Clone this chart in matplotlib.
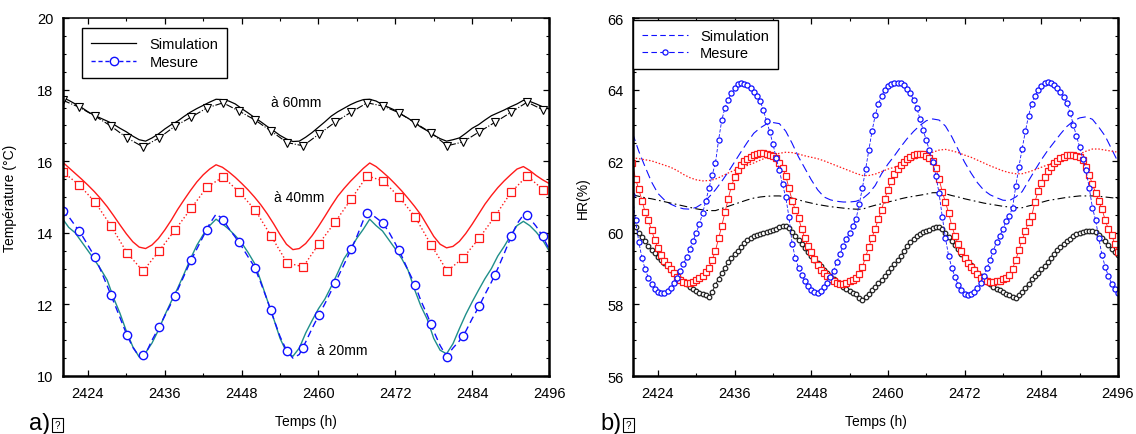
import numpy as np
import matplotlib
matplotlib.use("Agg")
import matplotlib.pyplot as plt
from matplotlib.lines import Line2D
from matplotlib.patches import Rectangle
from matplotlib.ticker import MultipleLocator

plt.rcParams['font.family'] = ['Liberation Sans', 'DejaVu Sans']

# ---------------- a) Temperature, hourly simulation (t = 2420 .. 2496) ----------------
T60_sim = [17.78, 17.7, 17.6, 17.5, 17.38, 17.28, 17.2, 17.12, 17.03, 16.92, 16.82, 16.7,
           16.6, 16.56, 16.65, 16.76, 16.9, 17.02, 17.12, 17.25, 17.37, 17.47, 17.56, 17.65,
           17.73, 17.72, 17.68, 17.6, 17.47, 17.35, 17.22, 17.1, 16.97, 16.85, 16.72, 16.62,
           16.55, 16.56, 16.67, 16.8, 16.95, 17.1, 17.26, 17.38, 17.48, 17.58, 17.66, 17.72,
           17.73, 17.68, 17.58, 17.5, 17.42, 17.3, 17.2, 17.08, 16.95, 16.85, 16.73, 16.63,
           16.56, 16.6, 16.65, 16.78, 16.92, 17.02, 17.15, 17.27, 17.35, 17.43, 17.52, 17.6,
           17.7, 17.67, 17.6, 17.52, 17.46]
T40_sim = [15.98, 15.82, 15.66, 15.5, 15.33, 15.15, 14.95, 14.73, 14.48, 14.22, 13.97, 13.75,
           13.6, 13.56, 13.66, 13.84, 14.08, 14.35, 14.65, 14.92, 15.18, 15.42, 15.62, 15.78,
           15.9, 15.83, 15.7, 15.55, 15.38, 15.2, 15.0, 14.78, 14.53, 14.25, 13.95, 13.68,
           13.53, 13.56, 13.7, 13.92, 14.18, 14.46, 14.75, 15.02, 15.24, 15.44, 15.62, 15.8,
           15.95, 15.85, 15.7, 15.54, 15.36, 15.17, 14.96, 14.74, 14.5, 14.2, 13.9, 13.68,
           13.58, 13.62, 13.76, 13.98, 14.24, 14.52, 14.8, 15.04, 15.26, 15.45, 15.62, 15.78,
           15.85, 15.74, 15.6, 15.48, 15.38]
T20_sim = [14.4, 14.15, 14.0, 13.75, 13.5, 13.25, 12.98, 12.68, 12.18, 11.75, 11.25, 10.82,
           10.53, 10.65, 10.92, 11.28, 11.7, 12.08, 12.45, 12.85, 13.27, 13.65, 13.95, 14.2,
           14.38, 14.25, 14.1, 13.92, 13.72, 13.45, 13.15, 12.65, 12.12, 11.6, 11.05, 10.67,
           10.55, 10.78, 11.2, 11.55, 11.88, 12.15, 12.5, 12.88, 13.28, 13.55, 13.85, 14.1,
           14.38, 14.2, 14.05, 13.8, 13.55, 13.28, 12.95, 12.42, 11.95, 11.58, 11.05, 10.72,
           10.62, 10.9, 11.32, 11.72, 12.07, 12.4, 12.72, 13.0, 13.35, 13.62, 13.92, 14.2,
           14.32, 14.2, 14.02, 13.8, 13.5]
T20_mes_line = [14.65, 14.45, 14.2, 13.95, 13.65, 13.35, 12.95, 12.52, 12.08, 11.63, 11.18, 10.8,
                10.55, 10.62, 11.0, 11.33, 11.68, 12.03, 12.4, 12.8, 13.2, 13.55, 13.9, 14.25,
                14.52, 14.4, 14.12, 13.88, 13.62, 13.33, 13.05, 12.6, 12.12, 11.6, 11.1, 10.72,
                10.5, 10.6, 10.95, 11.33, 11.68, 12.02, 12.38, 12.75, 13.12, 13.5, 13.9, 14.35,
                14.55, 14.42, 14.28, 14.02, 13.7, 13.35, 12.95, 12.58, 12.1, 11.7, 11.25, 10.85,
                10.55, 10.78, 10.98, 11.25, 11.6, 11.92, 12.28, 12.62, 13.0, 13.42, 13.86, 14.25,
                14.5, 14.4, 14.18, 13.9, 13.55]

# measured points every 2.5 h from t = 2420.1
T60_mes = [17.7, 17.51, 17.26, 16.98, 16.65, 16.4, 16.65, 16.98, 17.23, 17.49, 17.63,
           17.4, 17.15, 16.84, 16.52, 16.43, 16.76, 17.09, 17.37, 17.63, 17.54,
           17.35, 17.07, 16.79, 16.43, 16.54, 16.82, 17.09, 17.37, 17.65, 17.43]
T40_mes = [15.7, 15.34, 14.86, 14.19, 13.44, 12.93, 13.49, 14.08, 14.68, 15.28, 15.56,
           15.14, 14.64, 13.91, 13.16, 13.05, 13.7, 14.3, 14.94, 15.59, 15.45,
           15.0, 14.44, 13.66, 12.93, 13.3, 13.85, 14.47, 15.14, 15.59, 15.2]
T20_mes = [14.62, 14.05, 13.32, 12.26, 11.15, 10.59, 11.37, 12.23, 13.24, 14.08, 14.36,
           13.74, 13.02, 11.84, 10.7, 10.78, 11.7, 12.6, 13.55, 14.55, 14.27,
           13.52, 12.54, 11.45, 10.54, 11.12, 11.95, 12.82, 13.9, 14.5, 13.9]

# ---------------- b) Relative humidity ----------------
# simulation, hourly from 2420
HR20_sim = [62.8, 62.28, 61.84, 61.42, 61.1, 60.92, 60.8, 60.72, 60.67, 60.66, 60.71, 60.82,
            61.0, 61.2, 61.44, 61.7, 61.98, 62.26, 62.53, 62.78, 62.93, 63.04, 63.08, 63.05,
            62.84, 62.5, 62.12, 61.8, 61.48, 61.2, 61.0, 60.92, 60.88, 60.86, 60.86, 60.88,
            60.95, 61.1, 61.32, 61.65, 61.92, 62.15, 62.4, 62.63, 62.83, 63.0, 63.13, 63.18,
            63.15, 62.98, 62.68, 62.32, 61.97, 61.67, 61.4, 61.19, 61.06, 60.98, 60.91, 60.9,
            61.0, 61.15, 61.45, 61.75, 62.04, 62.3, 62.53, 62.76, 62.97, 63.12, 63.21, 63.24,
            63.17, 62.95, 62.7, 62.34, 61.98]
HR40_sim = [62.1, 62.07, 62.04, 62.01, 61.95, 61.89, 61.83, 61.74, 61.63, 61.54, 61.48, 61.45,
            61.46, 61.5, 61.58, 61.67, 61.75, 61.82, 61.88, 61.95, 62.03, 62.1, 62.17, 62.22,
            62.25, 62.24, 62.2, 62.15, 62.11, 62.07, 62.01, 61.94, 61.87, 61.8, 61.73, 61.66,
            61.6, 61.6, 61.64, 61.71, 61.78, 61.83, 61.89, 61.96, 62.04, 62.11, 62.18, 62.25,
            62.31, 62.33, 62.29, 62.24, 62.17, 62.11, 62.03, 61.95, 61.87, 61.8, 61.73, 61.68,
            61.65, 61.65, 61.7, 61.76, 61.83, 61.9, 61.96, 62.02, 62.08, 62.13, 62.2, 62.28,
            62.34, 62.34, 62.31, 62.28, 62.25]
HR60_sim = [61.06, 61.02, 60.98, 60.95, 60.91, 60.87, 60.83, 60.79, 60.75, 60.71, 60.67, 60.64,
            60.62, 60.62, 60.68, 60.74, 60.8, 60.86, 60.92, 60.97, 61.0, 61.02, 61.03, 61.03,
            61.01, 60.97, 60.92, 60.87, 60.83, 60.79, 60.76, 60.73, 60.71, 60.69, 60.67, 60.66,
            60.66, 60.72, 60.77, 60.81, 60.86, 60.9, 60.95, 60.99, 61.02, 61.05, 61.08, 61.12,
            61.12, 61.09, 61.04, 61.0, 60.95, 60.91, 60.87, 60.83, 60.8, 60.77, 60.74, 60.72,
            60.7, 60.7, 60.75, 60.79, 60.85, 60.9, 60.93, 60.96, 60.99, 61.01, 61.03, 61.03,
            61.03, 61.02, 61.0, 60.98, 60.96]

# measured, every 0.5 h from 2420
HR20_mes = [61.05, 60.35, 59.75, 59.3, 58.98, 58.75, 58.57, 58.44, 58.36, 58.32, 58.33, 58.38,
            58.47, 58.6, 58.75, 58.93, 59.13, 59.33, 59.55, 59.77, 60.0, 60.25, 60.55, 60.9,
            61.25, 61.62, 61.95, 62.6, 63.15, 63.5, 63.72, 63.9, 64.05, 64.15, 64.18, 64.17,
            64.12, 64.04, 63.93, 63.83, 63.68, 63.43, 63.12, 62.82, 62.48, 62.1, 61.75, 61.35,
            61.0, 60.45, 59.7, 59.3, 59.03, 58.83, 58.66, 58.51, 58.41, 58.34, 58.32, 58.37,
            58.48, 58.61, 58.76, 58.93, 59.18, 59.41, 59.64, 59.82, 60.0, 60.18, 60.38, 60.8,
            61.25, 61.78, 62.3, 62.83, 63.28, 63.6, 63.82, 64.0, 64.1, 64.16, 64.18, 64.19,
            64.18, 64.13, 64.03, 63.9, 63.71, 63.5, 63.18, 62.88, 62.58, 62.3, 61.98, 61.6,
            61.1, 60.45, 59.85, 59.35, 59.02, 58.76, 58.54, 58.39, 58.3, 58.27, 58.28, 58.35,
            58.46, 58.6, 58.78, 59.01, 59.25, 59.5, 59.74, 59.92, 60.1, 60.34, 60.48, 60.7,
            61.3, 61.85, 62.35, 62.83, 63.27, 63.6, 63.82, 64.0, 64.1, 64.18, 64.21, 64.19,
            64.14, 64.05, 63.94, 63.8, 63.62, 63.35, 63.02, 62.7, 62.4, 62.05, 61.75, 61.25,
            60.7, 60.35, 59.85, 59.37, 59.05, 58.79, 58.58, 58.42, 58.33]
HR40_mes = [61.95, 61.5, 61.22, 60.9, 60.58, 60.35, 60.08, 59.8, 59.57, 59.38, 59.22, 59.1,
            58.98, 58.87, 58.76, 58.68, 58.63, 58.6, 58.6, 58.63, 58.68, 58.74, 58.8, 58.9,
            59.03, 59.25, 59.5, 59.85, 60.2, 60.58, 60.95, 61.3, 61.55, 61.76, 61.9, 62.0,
            62.07, 62.13, 62.17, 62.2, 62.23, 62.23, 62.21, 62.18, 62.14, 62.08, 61.95, 61.8,
            61.6, 61.25, 60.9, 60.64, 60.42, 60.1, 59.85, 59.63, 59.45, 59.28, 59.1, 58.97,
            58.88, 58.78, 58.7, 58.65, 58.6, 58.58, 58.57, 58.6, 58.64, 58.69, 58.74, 58.85,
            59.05, 59.33, 59.6, 59.86, 60.12, 60.38, 60.65, 60.95, 61.2, 61.45, 61.64, 61.78,
            61.89, 61.99, 62.07, 62.13, 62.18, 62.2, 62.21, 62.2, 62.15, 62.08, 62.0, 61.8,
            61.5, 61.15, 60.85, 60.55, 60.19, 59.91, 59.68, 59.48, 59.3, 59.16, 59.05, 58.96,
            58.85, 58.75, 58.69, 58.65, 58.63, 58.63, 58.64, 58.66, 58.7, 58.75, 58.82, 59.0,
            59.25, 59.52, 59.8, 60.05, 60.3, 60.47, 60.86, 61.17, 61.38, 61.57, 61.73, 61.85,
            61.94, 62.01, 62.08, 62.13, 62.16, 62.17, 62.17, 62.15, 62.12, 62.02, 61.85, 61.62,
            61.35, 61.12, 60.88, 60.66, 60.35, 60.1, 59.93, 59.7, 59.45]
HR60_mes = [60.3, 60.15, 60.0, 59.87, 59.76, 59.64, 59.53, 59.43, 59.33, 59.24, 59.15, 59.06,
            58.97, 58.88, 58.79, 58.71, 58.63, 58.56, 58.49, 58.43, 58.38, 58.33, 58.29, 58.25,
            58.21, 58.35, 58.55, 58.72, 58.88, 59.02, 59.18, 59.31, 59.41, 59.5, 59.61, 59.71,
            59.8, 59.86, 59.9, 59.94, 59.97, 60.0, 60.03, 60.05, 60.08, 60.12, 60.15, 60.18,
            60.19, 60.13, 60.03, 59.92, 59.8, 59.68, 59.57, 59.47, 59.36, 59.25, 59.15, 59.06,
            58.97, 58.88, 58.79, 58.71, 58.63, 58.56, 58.49, 58.43, 58.38, 58.33, 58.29, 58.17,
            58.12, 58.2, 58.3, 58.4, 58.5, 58.59, 58.68, 58.78, 58.9, 59.01, 59.12, 59.23,
            59.35, 59.49, 59.62, 59.73, 59.83, 59.9, 59.97, 60.01, 60.05, 60.09, 60.13, 60.16,
            60.16, 60.1, 60.0, 59.88, 59.76, 59.65, 59.54, 59.42, 59.3, 59.19, 59.09, 58.98,
            58.87, 58.78, 58.7, 58.63, 58.56, 58.49, 58.44, 58.4, 58.35, 58.29, 58.25, 58.21,
            58.18, 58.26, 58.35, 58.47, 58.58, 58.7, 58.8, 58.89, 58.98, 59.08, 59.18, 59.29,
            59.4, 59.51, 59.61, 59.7, 59.77, 59.84, 59.9, 59.97, 60.0, 60.02, 60.04, 60.05,
            60.06, 60.02, 59.95, 59.86, 59.77, 59.66, 59.55, 59.46, 59.38]

t_h = 2420 + np.arange(len(T60_sim))
t_m = 2420.1 + 2.5 * np.arange(len(T20_mes))
t_half = 2420 + 0.5 * np.arange(len(HR20_mes))

BLUE = '#1010ff'
RED = '#ff1a1a'
TEAL = '#1f8f8a'

fig = plt.figure(figsize=(11.36, 4.35), dpi=100)
axa = fig.add_axes([63/1136, 58/435, 486/1136, 358/435])
axb = fig.add_axes([633/1136, 58/435, 485/1136, 358/435])


def style_axes(ax, ylo, yhi):
    ax.set_xlim(2420.1, 2496)
    ax.set_ylim(ylo, yhi)
    ax.xaxis.set_major_locator(MultipleLocator(12))
    ax.xaxis.set_minor_locator(MultipleLocator(6))
    ax.yaxis.set_major_locator(MultipleLocator(2))
    ax.yaxis.set_minor_locator(MultipleLocator(0.5))
    ax.tick_params(which='both', direction='in', top=True, right=True,
                   labelsize=10.5, pad=7)
    ax.tick_params(which='major', length=4, width=0.9)
    ax.tick_params(which='minor', length=2.5, width=0.8)
    for s in ('left', 'bottom', 'right'):
        ax.spines[s].set_linewidth(1.8)
    ax.spines['top'].set_linewidth(1.1)
    ax.set_xlabel('Temps (h)', fontsize=10)
    ax.xaxis.set_label_coords(0.5, -0.106)


# ---- panel a ----
axa.plot(t_h, T60_sim, color='black', lw=0.9)
axa.plot(t_m, T60_mes, color='black', lw=0.8, ls='-.', marker='v', ms=6,
         mfc='white', mec='black', mew=0.8)
axa.plot(t_h, T40_sim, color=RED, lw=1.0)
axa.plot(t_m, T40_mes, color=RED, lw=1.0, ls=':', marker='s', ms=5.5,
         mfc='white', mec=RED, mew=0.9)
axa.plot(t_h, T20_sim, color=TEAL, lw=1.0)
axa.plot(t_h, T20_mes_line, color=BLUE, lw=1.0, ls=(0, (5, 3)))
axa.plot(t_m, T20_mes, ls='none', marker='o', ms=6, mfc='white', mec=BLUE, mew=1.0)

axa.text(2452.6, 17.65, 'à 60mm', fontsize=10, va='center')
axa.text(2453.1, 15.0, 'à 40mm', fontsize=10, va='center')
axa.text(2459.7, 10.73, 'à 20mm', fontsize=10, va='center')

style_axes(axa, 10, 20)
axa.set_ylabel('Température (°C)', fontsize=10)
axa.yaxis.set_label_coords(-0.095, 0.5)

ha = [Line2D([], [], color='black', lw=0.9),
      Line2D([], [], color=BLUE, lw=1.0, ls=(0, (3, 2)), marker='o', ms=6,
             mfc='white', mec=BLUE, mew=1.0)]
leg = axa.legend(ha, ['Simulation', 'Mesure'], loc='upper left',
                 bbox_to_anchor=(0.039, 0.972), borderaxespad=0, fontsize=10.5,
                 fancybox=False, framealpha=1, edgecolor='black', handlelength=3.1,
                 handletextpad=0.9, borderpad=0.62, labelspacing=0.28)
leg.get_frame().set_linewidth(1.0)

# ---- panel b ----
axb.plot(t_h, HR20_sim, color=BLUE, lw=0.8, ls=(0, (8, 4)))
axb.plot(t_h, HR40_sim, color=RED, lw=0.9, ls=(0, (1.2, 1.5)))
axb.plot(t_h, HR60_sim, color='black', lw=0.8, ls=(0, (7, 3, 1.5, 3)))
axb.plot(t_half, HR60_mes, color='black', lw=0.6, marker='o', ms=3.3,
         mfc='white', mec='#222222', mew=0.9)
axb.plot(t_half, HR40_mes, color=RED, lw=0.6, marker='s', ms=3.9,
         mfc='white', mec=RED, mew=0.9)
axb.plot(t_half, HR20_mes, color=BLUE, lw=0.6, ls=(0, (4, 2)), marker='o', ms=3.7,
         mfc='white', mec=BLUE, mew=0.9)

style_axes(axb, 56, 66)
axb.set_ylabel('HR(%)', fontsize=10)
axb.yaxis.set_label_coords(-0.089, 0.5)

hb = [Line2D([], [], color=BLUE, lw=0.8, ls=(0, (5, 3))),
      Line2D([], [], color=BLUE, lw=0.8, ls=(0, (5, 3)), marker='o', ms=3.7,
             mfc='white', mec=BLUE, mew=0.9)]
leg2 = axb.legend(hb, ['Simulation', 'Mesure'], loc='upper left',
                  bbox_to_anchor=(0.0, 0.994), borderaxespad=0, fontsize=10.5,
                  fancybox=False, framealpha=1, edgecolor='black', handlelength=3.2,
                  handletextpad=0.8, borderpad=0.6, labelspacing=0.2)
leg2.get_frame().set_linewidth(1.0)

# panel letters (with the missing-glyph box of the original)
for x0, lab in ((29, 'a)'), (600, 'b)')):
    fig.text(x0/1136, 1 - 424/435, lab, fontsize=17, va='center', ha='left')
    bx = x0 + 23
    fig.patches.append(Rectangle((bx/1136, 1 - 433/435), 11/1136, 14/435,
                                 transform=fig.transFigure, fill=False,
                                 lw=0.8, edgecolor='black'))
    fig.text((bx + 5.5)/1136, 1 - 426/435, '?', fontsize=7, ha='center', va='center')

fig.savefig('out.png', dpi=100)
